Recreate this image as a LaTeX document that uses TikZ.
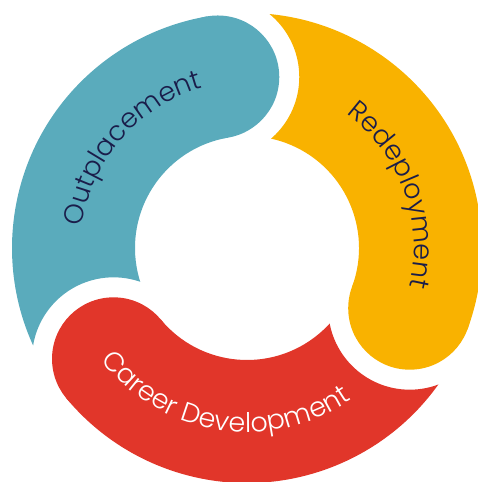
\documentclass[tikz,border=0pt]{standalone}
\usepackage{fontspec}
\usetikzlibrary{decorations.text}
\newfontfamily\lblfont{Poppins Light}
\newcommand\lblstyle{\lblfont\fontsize{27}{32}\selectfont}
\definecolor{segteal}{HTML}{5AABBC}
\definecolor{segyellow}{HTML}{F9B200}
\definecolor{segred}{HTML}{E1362A}
\definecolor{navy}{HTML}{1A1D4A}
\tikzset{
  ringtext/.style 2 args={decorate, decoration={text along path, text align=center, text color=#1, text={|\lblstyle|#2}}}
}
\begin{document}
\begin{tikzpicture}[x=1pt,y=1pt]
\useasboundingbox (-247,-234) rectangle (231,248);
\def\Ro{235}\def\Ri{112}\def\Rm{173.5}\def\Rc{61.5}\def\Rg{81.5}
% teal segment: from red cap (219.7) to own cap (99.7)
\begin{scope}[even odd rule]
\clip (-300,-300) rectangle (300,300) (219.7:\Rm) circle (\Rg);
\fill[segteal] (219.7:\Ro) arc[start angle=219.7,end angle=99.7,radius=\Ro] -- (99.7:\Ri) arc[start angle=99.7,end angle=219.7,radius=\Ri] -- cycle;
\fill[segteal] (99.7:\Rm) circle (\Rc);
\end{scope}
% yellow segment
\begin{scope}[even odd rule]
\clip (-300,-300) rectangle (300,300) (99.7:\Rm) circle (\Rg);
\fill[segyellow] (99.7:\Ro) arc[start angle=99.7,end angle=-20.3,radius=\Ro] -- (-20.3:\Ri) arc[start angle=-20.3,end angle=99.7,radius=\Ri] -- cycle;
\fill[segyellow] (-20.3:\Rm) circle (\Rc);
\end{scope}
% red segment
\begin{scope}[even odd rule]
\clip (-300,-300) rectangle (300,300) (-20.3:\Rm) circle (\Rg);
\fill[segred] (-20.3:\Ro) arc[start angle=-20.3,end angle=-140.3,radius=\Ro] -- (-140.3:\Ri) arc[start angle=-140.3,end angle=-20.3,radius=\Ri] -- cycle;
\fill[segred] (-140.3:\Rm) circle (\Rc);
\end{scope}
% labels
\path[ringtext={navy}{Outplacement}] (199:166) arc[start angle=199,end angle=79,radius=166];
\path[ringtext={navy}{Redeployment}] (80:167) arc[start angle=80,end angle=-40,radius=167];
\path[ringtext={white}{Career Development}] (201:184) arc[start angle=201,end angle=321,radius=184];
\end{tikzpicture}
\end{document}
